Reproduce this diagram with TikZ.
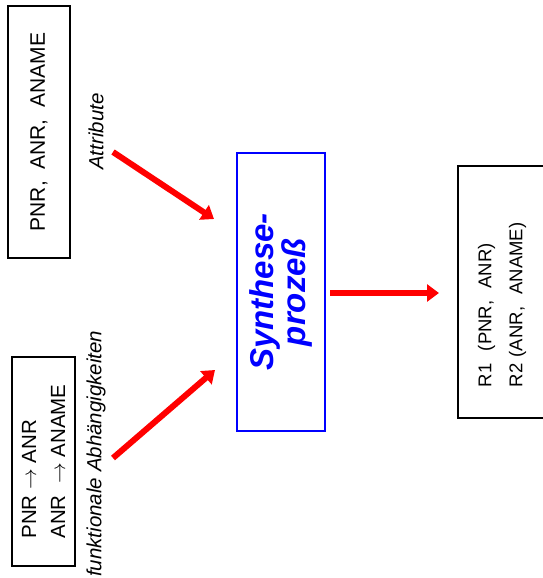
\documentclass[tikz,border=0pt]{standalone}
\usepackage{fontspec}
\setmainfont{Liberation Sans}
\usetikzlibrary{positioning,arrows.meta}

\begin{document}
\begin{tikzpicture}[x=1pt,y=-1pt,
  box/.style={draw=black,line width=1.4pt,rotate=90,inner sep=0pt},
  tag/.style={rotate=90,font=\fontsize{20.5}{24}\selectfont\itshape,inner sep=0pt},
  flow/.style={draw=red,line width=6pt,-{Triangle[length=12pt,width=17pt]}}]

\useasboundingbox (0,0) rectangle (542,578);

% input boxes
\node[box,minimum width=252pt,minimum height=62pt,font=\fontsize{21}{24}\selectfont]
  (attr) at (39,132) {PNR,\ \ ANR,\ \ ANAME};
\node[box,minimum width=209pt,minimum height=63pt,align=left,
  font=\fontsize{20.5}{29}\selectfont]
  (fd) at (43.5,461.5) {PNR $\rightarrow$ ANR\\ANR\ \ $\rightarrow$ ANAME};

% labels
\node[tag] (attrlbl) at (96,131.5) {Attribute};
\node[tag,anchor=west] (fdlbl) at (96,577) {funktionale Abhängigkeiten};

% synthesis
\node[box,draw=blue,line width=1.8pt,minimum width=278pt,minimum height=88pt,
  align=center,text=blue,font=\fontsize{33}{30}\selectfont\bfseries\itshape]
  (synth) at (281,292) {Synthese-\\prozeß};

% result
\node[box,minimum width=252pt,minimum height=88pt,text width=190pt,align=left,
  inner xsep=31pt,font=\fontsize{18.5}{31}\selectfont]
  (result) at (502,292) {R1\ \ (PNR,\ \ ANR)\\R2 (ANR,\ \ ANAME)};

% arrows
\coordinate (a1) at (113,152);
\coordinate (a2) at (214,219);
\coordinate (b1) at (113,458);
\coordinate (b2) at (215,370);
\coordinate (c1) at (330,293);
\coordinate (c2) at (439,293);
\draw[flow] (a1) -- (a2);
\draw[flow] (b1) -- (b2);
\draw[flow] (c1) -- (c2);

\end{tikzpicture}
\end{document}
